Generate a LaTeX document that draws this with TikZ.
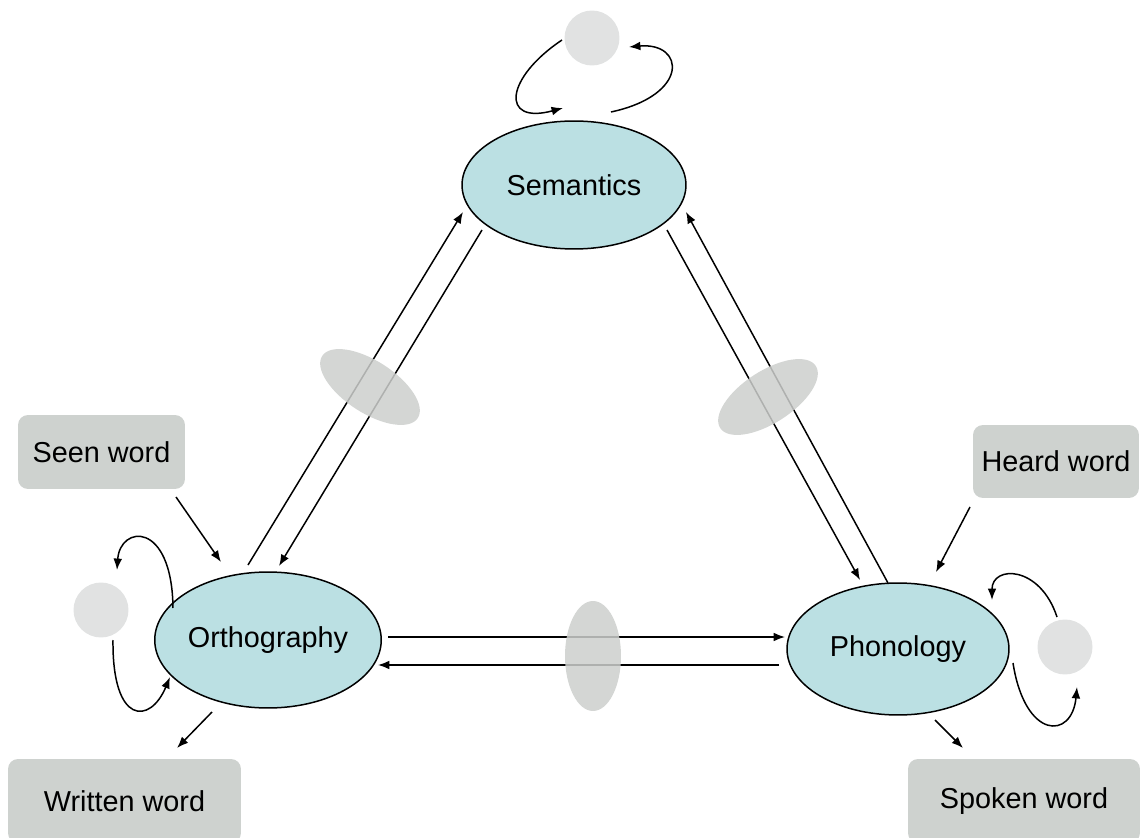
\documentclass[tikz,border=0pt]{standalone}
\usepackage{fontspec}
\setmainfont{Liberation Sans}
\usetikzlibrary{shapes.geometric,arrows.meta,calc}
\definecolor{nodeblue}{RGB}{187,224,227}
\definecolor{circgray}{RGB}{225,226,226}
\definecolor{ovalgray}{RGB}{205,207,205}
\definecolor{boxgray}{RGB}{206,210,207}
\begin{document}
\begin{tikzpicture}[x=0.02cm,y=-0.02cm,
  lbl/.style={font=\fontsize{16.4}{19}\selectfont},
  concept/.style={ellipse,draw=black,line width=0.85pt,fill=nodeblue,inner sep=0pt,lbl},
  ext/.style={rectangle,rounded corners=0.2cm,fill=boxgray,inner sep=0pt,lbl},
  unit/.style={circle,fill=circgray,inner sep=0pt,minimum size=1.1cm},
  hidden/.style={ellipse,fill=ovalgray,fill opacity=0.85,inner sep=0pt},
  conn/.style={line width=0.85pt,-{Latex[length=6.5pt,width=5pt]}}
]
\useasboundingbox (0,0) rectangle (1144,838);

% main concepts
\node[concept,minimum width=4.48cm,minimum height=2.56cm] (sem) at (574,185) {Semantics};
\node[concept,minimum width=4.48cm,minimum height=2.72cm] (orth) at (268,640) {Orthography};
\node[concept,minimum width=4.44cm,minimum height=2.64cm] (phon) at (898,649) {Phonology};

% context units
\node[unit] (c1) at (592,38) {};
\node[unit] (c2) at (101,610) {};
\node[unit] (c3) at (1065,647) {};

% input / output boxes
\node[ext,minimum width=3.34cm,minimum height=1.48cm] (seen) at (101.5,452) {Seen word};
\node[ext,minimum width=4.66cm,minimum height=1.68cm] (written) at (124.5,801) {Written word};
\node[ext,minimum width=3.32cm,minimum height=1.46cm] (heard) at (1056,461.5) {Heard word};
\node[ext,minimum width=4.64cm,minimum height=1.68cm] (spoken) at (1024,801) {Spoken word};

% triangle connections
\draw[conn] ($(orth)+(-20,-75)$) -- ($(sem)+(-111,27)$);
\draw[conn] ($(sem)+(-92,45)$) -- ($(orth)+(11,-74)$);
\draw[conn] ($(sem)+(93,45)$) -- ($(phon)+(-38,-69)$);
\draw[conn] ($(phon)+(-10,-66)$) -- ($(sem)+(112,27)$);
\draw[conn] ($(orth)+(120,-3)$) -- ($(phon)+(-113,-12)$);
\draw[conn] ($(phon)+(-119,16)$) -- ($(orth)+(110,25)$);

% inputs and outputs
\draw[conn] ($(seen)+(74.5,45)$) -- ($(orth)+(-47,-78)$);
\draw[conn] ($(orth)+(-56,72)$) -- ($(written)+(52.5,-53)$);
\draw[conn] ($(heard)+(-86,45.5)$) -- ($(phon)+(38,-77)$);
\draw[conn] ($(phon)+(37,71)$) -- ($(spoken)+(-61,-53)$);

% recurrent loops
\draw[conn] ($(c1)+(-30,2)$) .. controls (505,78) and (500,125) .. ($(sem)+(-11,-77)$);
\draw[conn] ($(sem)+(37,-73)$) .. controls (690,95) and (685,42) .. ($(c1)+(37,9)$);
\draw[conn] ($(orth)+(-95,-32)$) .. controls (172,520) and (120,525) .. ($(c2)+(16,-40)$);
\draw[conn] ($(c2)+(12,30)$) .. controls (112,725) and (150,725) .. ($(orth)+(-98,37)$);
\draw[conn] ($(c3)+(-8,-30)$) .. controls (1040,565) and (992,565) .. ($(phon)+(94,-49)$);
\draw[conn] ($(phon)+(115,14)$) .. controls (1025,740) and (1072,740) .. ($(c3)+(12,40)$);

% hidden units
\node[hidden,minimum width=2.28cm,minimum height=1.04cm,rotate=-33] (h1) at (370,387) {};
\node[hidden,minimum width=2.28cm,minimum height=1.04cm,rotate=33] (h2) at (768,397) {};
\node[hidden,minimum width=1.12cm,minimum height=2.2cm] (h3) at (593,656) {};
\end{tikzpicture}
\end{document}
